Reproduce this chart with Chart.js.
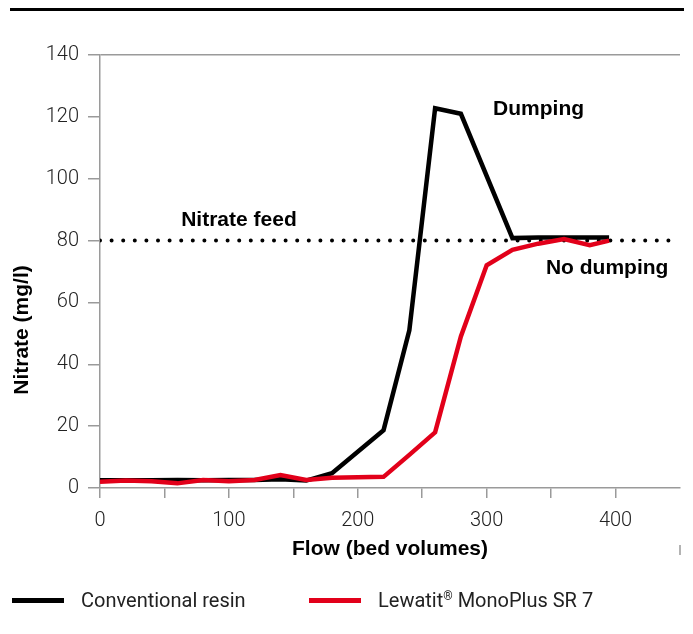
<!DOCTYPE html>
<html>
<head>
<meta charset="utf-8">
<script src="https://cdn.jsdelivr.net/npm/chart.js@4.4.0/dist/chart.umd.min.js"></script>
<style>
  body { margin: 0; background: #fff; }
  #wrap { position: relative; width: 693px; height: 634px; }
  #topRule { position: absolute; left: 10px; top: 8px; width: 674px; height: 3px; background: #000; }
  #legend { font-family: Roboto, "Liberation Sans", sans-serif; font-size: 20px; color: #222; }
  .item { position: absolute; top: 588px; height: 24px; white-space: nowrap; display: flex; align-items: center; }
  .swatch { display: inline-block; width: 52px; height: 5px; margin-right: 17px; }
  sup { font-size: 12px; vertical-align: 7px; }
</style>
</head>
<body>
<div id="wrap">
  <canvas id="nitrateChart" width="693" height="634"></canvas>
  <div id="topRule"></div>
  <div id="legend"></div>
</div>
<script>
// Conventional resin (black)
const flowConventional = [0, 20, 40, 60, 80, 100, 120, 140, 160, 180, 220, 240, 260, 280, 320, 340, 360, 380, 395];
const nitrateConventional = [2.5, 2.5, 2.5, 2.6, 2.5, 2.6, 2.6, 2.8, 2.4, 4.8, 18.7, 51, 122.8, 121, 80.8, 81, 81, 81, 81];

// Lewatit MonoPlus SR 7 (red)
const flowMonoPlus = [0, 20, 40, 60, 80, 100, 120, 140, 160, 180, 220, 240, 260, 280, 300, 320, 340, 360, 380, 395];
const nitrateMonoPlus = [2.0, 2.4, 2.2, 1.5, 2.6, 2.2, 2.6, 4.2, 2.6, 3.3, 3.6, 10.7, 18, 49, 72, 77, 79, 80.5, 78.5, 80];

// Nitrate feed reference
const feedFlow = [0, 450];
const feedNitrate = [80, 80];

const xTickLabels = [0, 100, 200, 300, 400];
const seriesNames = ["Conventional resin", "Lewatit® MonoPlus SR 7"];

const notes = [
  { text: "Nitrate feed", x: 63, y: 86.5 },
  { text: "Dumping", x: 305, y: 122.5 },
  { text: "No dumping", x: 346, y: 71 }
];

const RED = "#e2001a";
const AXIS = "#9a9a9a";

function toPoints(xs, ys) {
  return xs.map((x, i) => ({ x: x, y: ys[i] }));
}

const extrasPlugin = {
  id: "extras",
  afterDraw(chart) {
    const ctx = chart.ctx;
    const xs = chart.scales.x;
    const ys = chart.scales.y;
    const area = chart.chartArea;
    ctx.save();
    // annotations
    ctx.fillStyle = "#000";
    ctx.font = "bold 21px 'Liberation Sans', Arial, sans-serif";
    ctx.textAlign = "left";
    ctx.textBaseline = "middle";
    notes.forEach((n) => {
      ctx.fillText(n.text, xs.getPixelForValue(n.x), ys.getPixelForValue(n.y));
    });
    // y axis title
    ctx.translate(22, area.bottom - 158);
    ctx.rotate(-Math.PI / 2);
    ctx.textAlign = "center";
    ctx.fillText("Nitrate (mg/l)", 0, 0);
    ctx.restore();
    // small mark at right end under the axis
    ctx.save();
    ctx.strokeStyle = AXIS;
    ctx.lineWidth = 1.5;
    ctx.beginPath();
    ctx.moveTo(area.right, area.bottom + 57);
    ctx.lineTo(area.right, area.bottom + 67);
    ctx.stroke();
    ctx.restore();
  }
};

const tickFont = { family: "Roboto", size: 20, weight: 300 };

new Chart(document.getElementById("nitrateChart").getContext("2d"), {
  type: "line",
  data: {
    datasets: [
      {
        label: seriesNames[1],
        data: toPoints(flowMonoPlus, nitrateMonoPlus),
        borderColor: RED,
        borderWidth: 4.5,
        pointRadius: 0,
        tension: 0,
        borderJoinStyle: "miter",
        order: 1
      },
      {
        label: seriesNames[0],
        data: toPoints(flowConventional, nitrateConventional),
        borderColor: "#000",
        borderWidth: 4.5,
        pointRadius: 0,
        tension: 0,
        borderJoinStyle: "miter",
        order: 2
      },
      {
        label: "Nitrate feed",
        data: toPoints(feedFlow, feedNitrate),
        borderColor: "#000",
        borderWidth: 4,
        borderDash: [0, 11.6],
        borderCapStyle: "round",
        pointRadius: 0,
        order: 3
      }
    ]
  },
  options: {
    responsive: false,
    animation: false,
    layout: { padding: { top: 55, right: 13, left: 0, bottom: 0 } },
    plugins: {
      legend: { display: false },
      tooltip: { enabled: false }
    },
    scales: {
      x: {
        type: "linear",
        min: 0,
        max: 450,
        border: { display: true, color: AXIS, width: 1.5 },
        grid: {
          drawOnChartArea: false,
          drawTicks: true,
          tickLength: 10,
          lineWidth: 1.5,
          tickColor: (c) => (c.tick && c.tick.value === 450 ? "transparent" : AXIS)
        },
        ticks: {
          stepSize: 50,
          autoSkip: false,
          maxRotation: 0,
          padding: 11,
          color: "#222",
          font: tickFont,
          callback: (v) => (xTickLabels.includes(v) ? String(v) : "")
        },
        title: {
          display: true,
          text: "Flow (bed volumes)",
          color: "#000",
          font: { family: "Liberation Sans", size: 21, weight: "bold" },
          padding: { top: 0, bottom: 72 }
        },
        afterFit: (s) => { s.height = 146; }
      },
      y: {
        min: 0,
        max: 140,
        border: { display: true, color: AXIS, width: 1.5 },
        grid: {
          drawOnChartArea: true,
          tickLength: 12,
          lineWidth: 1.5,
          color: (c) => (c.tick && c.tick.value === 140 ? AXIS : "transparent"),
          tickColor: AXIS
        },
        ticks: { stepSize: 20, padding: 9, color: "#222", font: tickFont },
        afterFit: (s) => { s.width = 100; }
      }
    }
  },
  plugins: [extrasPlugin]
});

// legend
const legendEl = document.getElementById("legend");
const legendItems = [
  { name: seriesNames[0], color: "#000", left: 12 },
  { name: seriesNames[1], color: RED, left: 309 }
];
legendItems.forEach((it) => {
  const div = document.createElement("div");
  div.className = "item";
  div.style.left = it.left + "px";
  const sw = document.createElement("span");
  sw.className = "swatch";
  sw.style.background = it.color;
  const label = document.createElement("span");
  label.innerHTML = it.name.replace("®", "<sup>®</sup>");
  div.appendChild(sw);
  div.appendChild(label);
  legendEl.appendChild(div);
});
</script>
</body>
</html>
